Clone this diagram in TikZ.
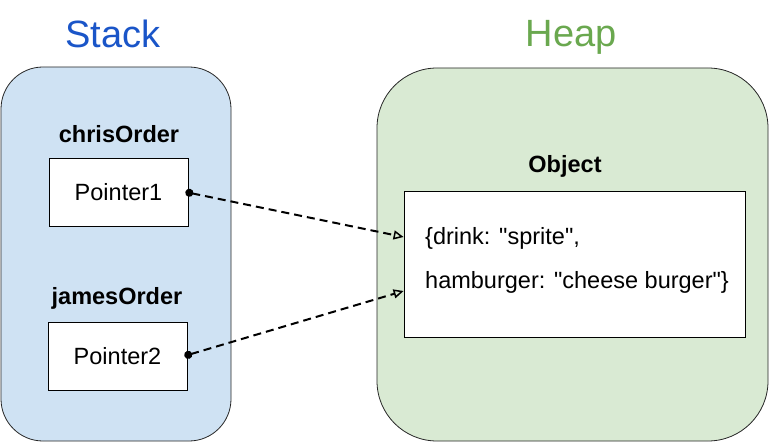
\documentclass[tikz,border=0pt]{standalone}
\usepackage{fontspec}
\setmainfont{Liberation Sans}
\usepackage{tikz}
\usetikzlibrary{calc, arrows.meta, positioning}

\definecolor{stackfill}{HTML}{CFE2F3}
\definecolor{heapfill}{HTML}{D9EAD3}
\definecolor{stackblue}{HTML}{1A55C8}
\definecolor{heapgreen}{HTML}{6AA84F}

\tikzset{
  region/.style={draw=black!85, line width=0.8pt, minimum width=#1},
  cell/.style={draw=black, fill=white, line width=0.8pt, inner sep=0pt},
  ref/.style={dashed, dash pattern=on 8pt off 5pt, line width=2pt,
    {Circle[length=8pt]}-{Triangle[open, length=10pt, width=9pt, line width=1.5pt]}}
}

\begin{document}
\begin{tikzpicture}[x=1pt, y=-1pt, font=\fontsize{23.5}{28}\selectfont]
    \useasboundingbox (0,0) rectangle (773,446);

    \coordinate (S) at (116,254);
    \coordinate (H) at (572.5,254.5);

    \node[region=230pt, fill=stackfill, minimum height=374pt, rounded corners=42pt] (stack) at (S) {};
    \node[region=391pt, fill=heapfill, minimum height=373pt, rounded corners=60pt] (heap) at (H) {};

    \node[anchor=base, text=stackblue, font=\fontsize{38}{42}\selectfont] (stacktitle) at (113,48) {Stack};
    \node[anchor=base, text=heapgreen, font=\fontsize{38}{42}\selectfont] (heaptitle) at (571,47) {Heap};

    \node[cell, minimum width=139pt, minimum height=68pt] (ptr1) at (118.5,192) {Pointer1};
    \node[cell, minimum width=139pt, minimum height=68pt] (ptr2) at (117.5,356) {Pointer2};
    \node[cell, minimum width=341pt, minimum height=146pt] (obj) at (574.5,264) {};

    \node[anchor=base, font=\fontsize{23.5}{28}\selectfont\bfseries] (chris) at (119,143) {chrisOrder};
    \node[anchor=base, font=\fontsize{23.5}{28}\selectfont\bfseries] (james) at (117,304) {jamesOrder};
    \node[anchor=base, font=\fontsize{23.5}{28}\selectfont\bfseries] (objlabel) at (565,173) {Object};

    \node[anchor=base west, inner sep=0pt] (drink) at (425,245) {\{drink: \textquotedbl sprite\textquotedbl,};
    \node[anchor=base west, inner sep=0pt] (burger) at (425,288) {hamburger: \textquotedbl cheese burger\textquotedbl\}};

    \coordinate (in1) at ([yshift=27pt]obj.west);
    \coordinate (in2) at ([yshift=-27pt]obj.west);

    \draw[ref] ([xshift=-3pt]ptr1.east) -- (in1);
    \draw[ref] ([xshift=-3pt]ptr2.east) -- (in2);
\end{tikzpicture}
\end{document}
